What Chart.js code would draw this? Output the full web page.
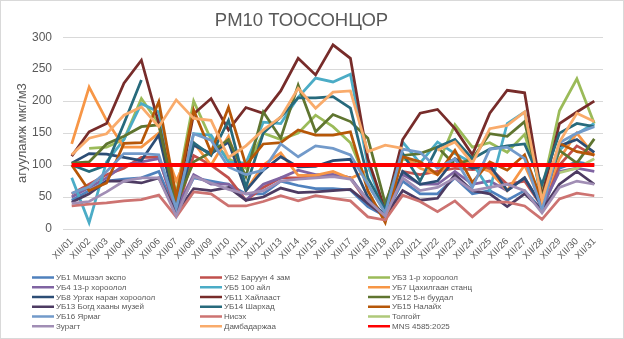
<!DOCTYPE html>
<html>
<head>
<meta charset="utf-8">
<script src="https://cdn.jsdelivr.net/npm/chart.js@4/dist/chart.umd.min.js"></script>
<style>
  html, body { margin: 0; padding: 0; background: #ffffff; }
  #wrap { width: 624px; height: 339px; }
</style>
</head>
<body>
<div id="wrap"><canvas id="c" width="624" height="339"></canvas></div>
<script>
// Daily PM10 concentration by station, December (мкг/м3)
const days = ["XII/01","XII/02","XII/03","XII/04","XII/05","XII/06","XII/07","XII/08","XII/09","XII/10",
  "XII/11","XII/12","XII/13","XII/14","XII/15","XII/16","XII/17","XII/18","XII/19","XII/20",
  "XII/21","XII/22","XII/23","XII/24","XII/25","XII/26","XII/27","XII/28","XII/29","XII/30","XII/31"];

const ub1  = [45, 60, 75, 78, 80, 90, 25, 80, 75, 70, 55, 55, 75, 68, 63, 63, 61, 35, 20, 75, 55, 55, 80, 55, 60, 45, 60, 30, 95, 105, 100];
const ub2  = [55, 70, 85, 95, 112, 112, 25, 115, 100, 80, 45, 65, 80, 80, 82, 85, 80, 40, 20, 90, 85, 90, 95, 93, 95, 70, 75, 35, 100, 130, 115];
const ub3  = [null, 126, 128, 140, 204, 165, 55, 200, 140, 110, 95, 150, 140, 150, 178, 160, 135, 70, 25, 110, 100, 100, 163, 128, 135, 120, 148, 60, 185, 235, 165];
const ub4  = [50, 65, 80, 100, 105, 110, 30, 85, 70, 70, 45, 70, 80, 92, 85, 85, 80, 45, 22, 85, 70, 70, 90, 70, 75, 60, 80, 35, 90, 95, 90];
const ub5  = [80, 10, 105, 140, 196, 183, 35, 149, 147, 105, 103, 167, 165, 206, 236, 230, 242, 100, 25, 136, 103, 136, 118, 103, 61, 165, 183, 40, 123, 149, 165];
const ub7  = [133, 222, 170, 128, 128, 150, 75, 135, 100, 145, 60, 100, 119, 84, 84, 90, 79, 92, null, 115, 95, 85, 110, 100, 90, 60, 100, 40, 110, 150, 115];
const ub8  = [103, 118, 117, 112, 107, 147, 30, 131, 118, 136, 60, 92, 113, 97, 98, 107, 109, 50, 20, 90, 70, 75, 110, 95, 100, 60, 80, 35, 130, 140, 120];
const ub11 = [114, 152, 165, 228, 264, 165, 40, 180, 204, 155, 190, 181, 216, 267, 241, 288, 267, 110, 30, 140, 181, 187, 157, 116, 181, 217, 213, 50, 165, 183, 200];
const ub12 = [103, 105, 133, 145, 160, 163, 40, 105, 120, 140, 82, 183, 142, 225, 152, 179, 168, 142, 40, 115, 118, 128, 100, 110, 149, 145, 168, 50, 123, 103, 141];
const ub13 = [42, 55, 75, 75, 72, 80, 25, 63, 60, 65, 45, 50, 64, 57, 58, 60, 62, 40, 20, 60, 45, 48, 85, 60, 55, 35, 55, 30, 70, 90, 70];
const ub14 = [100, 90, 100, 165, 233, null, 40, 135, 115, 170, 65, 150, 175, 205, 205, 207, 189, 80, 30, 118, 75, 128, 140, 110, 125, 130, 133, 70, 150, 165, 160];
const ub15 = [100, 60, 72, 134, 135, 199, 50, 186, 120, 190, 100, 133, 135, 155, 147, 147, 152, 60, 10, 113, 105, 85, 123, 73, 105, 92, 116, 43, 134, 121, 116];
const ub16 = [56, 66, 90, 118, 118, 116, 32, 149, 139, 97, 85, 92, 133, 113, 130, 126, 116, 70, 25, 125, 120, 95, 110, 65, 125, 128, 110, 30, 135, 150, 160];
const nisekh = [36, 39, 41, 44, 46, 53, 19, 58, 55, 36, 36, 43, 52, 44, 52, 48, 44, 19, 14, 53, 43, 27, 44, 19, 42, 42, 36, 15, 47, 56, 52];
const tolgoit = [null, null, null, null, null, null, null, null, null, null, null, null, null, null, null, null, null, null, null, null, null, null, null, null, null, null, null, null, 88, 95, 110];
const zuragt = [40, 43, 58, 75, 80, 80, 20, 82, 72, 62, 55, 60, 75, 78, 80, 82, 78, 45, 20, 80, 60, 65, 80, 60, 65, 70, 60, 25, 65, 75, 70];
const dambadarjaa = [116, 142, 149, 178, 191, 160, 202, 173, 170, 112, 130, 155, 175, 220, 189, 214, 216, 121, 131, 126, null, 123, 136, 103, 157, 162, 183, 45, 136, 181, 168];
// National standard MNS 4585:2025 daily limit
const mnsLimit = [100, 100, 100, 100, 100, 100, 100, 100, 100, 100, 100, 100, 100, 100, 100, 100, 100, 100, 100, 100, 100, 100, 100, 100, 100, 100, 100, 100, 100, 100, 100];

const yTicks = [0, 50, 100, 150, 200, 250, 300];

const seriesDefs = [
  ["УБ1 Мишээл экспо", ub1, "#4F81BD"],
  ["УБ2 Баруун 4 зам", ub2, "#C0504D"],
  ["УБ3 1-р хороолол", ub3, "#9BBB59"],
  ["УБ4 13-р хороолол", ub4, "#8064A2"],
  ["УБ5 100 айл", ub5, "#4BACC6"],
  ["УБ7 Цахилгаан станц", ub7, "#F79646"],
  ["УБ8 Ургах наран хороолол", ub8, "#2C4D75"],
  ["УБ11 Хайлааст", ub11, "#772C2A"],
  ["УБ12 5-н буудал", ub12, "#5F7530"],
  ["УБ13 Богд хааны музей", ub13, "#4D3B62"],
  ["УБ14 Шархад", ub14, "#276A7C"],
  ["УБ15 Налайх", ub15, "#B65708"],
  ["УБ16 Ярмаг", ub16, "#729ACA"],
  ["Нисэх", nisekh, "#CD7371"],
  ["Толгойт", tolgoit, "#AFC97A"],
  ["Зурагт", zuragt, "#A18EB5"],
  ["Дамбадаржаа", dambadarjaa, "#F9AB6B"],
  ["MNS 4585:2025", mnsLimit, "#FF0000"]
];

const N = seriesDefs.length;
const datasets = seriesDefs.map(([label, data, color], i) => ({
  label,
  data,
  borderColor: color,
  backgroundColor: color,
  borderWidth: i === N - 1 ? 4 : 2.75,
  pointRadius: 0,
  tension: 0,
  spanGaps: false,
  fill: false,
  order: N - i   // later series are painted on top
}));

const TEXT = "#595959";
Chart.defaults.font.family = "'Liberation Sans', Arial, sans-serif";

// White background, outer frame and a three-column legend
const frameAndLegend = {
  id: "frameAndLegend",
  beforeDraw(chart) {
    const ctx = chart.ctx;
    ctx.save();
    ctx.fillStyle = "#ffffff";
    ctx.fillRect(0, 0, chart.width, chart.height);
    ctx.restore();
  },
  afterDraw(chart) {
    const ctx = chart.ctx;
    ctx.save();
    ctx.font = "8px 'Liberation Sans', Arial, sans-serif";
    ctx.textBaseline = "middle";
    const colX = [32, 200, 368];
    chart.data.datasets.forEach((ds, i) => {
      const x = colX[i % 3];
      const y = 277.5 + Math.floor(i / 3) * 9.75;
      ctx.strokeStyle = ds.borderColor;
      ctx.lineWidth = 2.5;
      ctx.beginPath();
      ctx.moveTo(x, y);
      ctx.lineTo(x + 22, y);
      ctx.stroke();
      ctx.fillStyle = TEXT;
      ctx.fillText(ds.label, x + 24, y + 0.5);
    });
    ctx.strokeStyle = "#D9D9D9";
    ctx.lineWidth = 1;
    ctx.strokeRect(0.5, 0.5, chart.width - 1, chart.height - 1);
    ctx.restore();
  }
};

new Chart(document.getElementById("c"), {
  type: "line",
  data: { labels: days, datasets },
  plugins: [frameAndLegend],
  options: {
    responsive: false,
    animation: false,
    devicePixelRatio: 1,
    layout: { padding: { left: 0, right: 21, top: 0, bottom: 70 } },
    plugins: {
      legend: { display: false },
      tooltip: { enabled: false },
      title: {
        display: true,
        text: "PM10 ТООСОНЦОР",
        color: TEXT,
        font: { size: 18.5, weight: "normal" },
        padding: { top: 10, bottom: 5 }
      }
    },
    scales: {
      x: {
        offset: true,
        grid: { display: false, drawTicks: false },
        border: { display: false },
        ticks: {
          autoSkip: false,
          minRotation: 45,
          maxRotation: 45,
          color: TEXT,
          font: { size: 9.5 },
          padding: 7
        },
        afterFit(scale) { scale.height = 40; }
      },
      y: {
        min: 0,
        max: 300,
        afterBuildTicks(scale) { scale.ticks = yTicks.map(v => ({ value: v })); },
        ticks: { color: TEXT, font: { size: 12 }, padding: 11 },
        grid: { color: "#D9D9D9", lineWidth: 1, drawTicks: false },
        border: { display: false },
        title: {
          display: true,
          text: "агууламж мкг/м3",
          color: TEXT,
          font: { size: 13 },
          padding: { top: 15, bottom: 0 }
        },
        afterFit(scale) { scale.width = 63; }
      }
    }
  }
});
</script>
</body>
</html>
